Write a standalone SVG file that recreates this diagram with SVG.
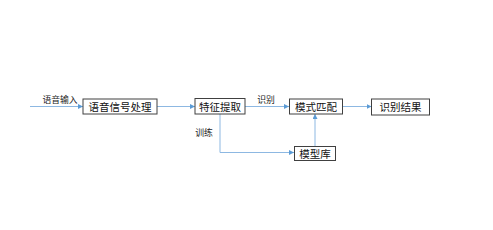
<svg xmlns="http://www.w3.org/2000/svg" width="493" height="230" viewBox="0 0 493 230">
<style>
.box{fill:#fff;stroke:#404040;stroke-width:1}
.t{font-family:"Liberation Sans","Noto Sans CJK SC",sans-serif;font-size:10.5px;fill:#111;text-anchor:middle;dominant-baseline:central}
.l{font-family:"Liberation Sans","Noto Sans CJK SC",sans-serif;font-size:8.8px;fill:#222;text-anchor:middle;dominant-baseline:central}
.c{fill:none;stroke:#8DB8E2;stroke-width:1}
</style>
<defs>
<marker id="a" viewBox="0 0 6 6" refX="6" refY="3" markerWidth="5" markerHeight="5" orient="auto"><path d="M0,0 L6,3 L0,6 z" fill="#5B9BD5"/></marker>
</defs>
<rect width="493" height="230" fill="#fff"/>
<g id="connectors">
<path class="c" d="M30,106.5 H83" marker-end="url(#a)"/>
<path class="c" d="M157,106.5 H195" marker-end="url(#a)"/>
<path class="c" d="M245,106.5 H289" marker-end="url(#a)"/>
<path class="c" d="M342,106.5 H371.5" marker-end="url(#a)"/>
<path class="c" d="M220,114 V152.5 H294" marker-end="url(#a)"/>
<path class="c" d="M315,146.5 V114" marker-end="url(#a)"/>
<text class="l" x="60" y="100">语音输入</text>
<text class="l" x="266" y="100">识别</text>
<text class="l" x="204" y="133">训练</text>
</g>
<g id="n1"><rect class="box" x="83" y="99" width="74" height="15"/><text class="t" x="120" y="106.5">语音信号处理</text></g>
<g id="n2"><rect class="box" x="195" y="98.5" width="50" height="15.5"/><text class="t" x="220" y="106.5">特征提取</text></g>
<g id="n3"><rect class="box" x="289.5" y="99" width="53" height="15"/><text class="t" x="316" y="106.5">模式匹配</text></g>
<g id="n4"><rect class="box" x="371.5" y="99" width="58" height="16"/><text class="t" x="400.5" y="107">识别结果</text></g>
<g id="n5"><rect class="box" x="294.5" y="146.5" width="41" height="14"/><text class="t" x="315" y="153.5">模型库</text></g>
</svg>
